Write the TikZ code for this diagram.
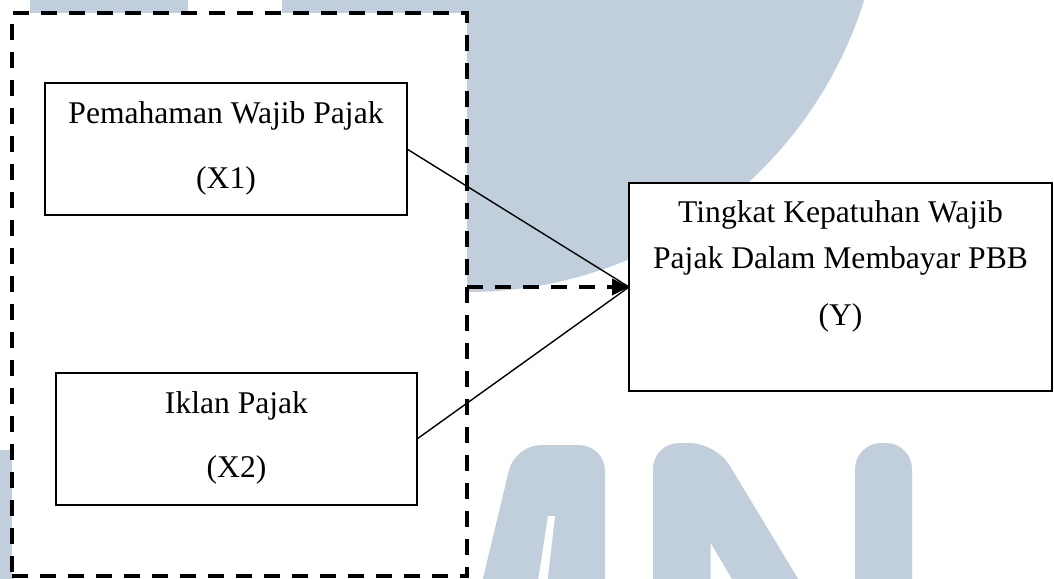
\documentclass[tikz,border=0pt]{standalone}
\usepackage{fontspec}
\setmainfont{Liberation Serif}
\usetikzlibrary{arrows.meta}
\definecolor{wm}{RGB}{193,207,220}
\begin{document}
\begin{tikzpicture}[x=1pt,y=-1pt,
  box/.style={draw=black, line width=1.8pt, fill=white, inner sep=0pt, outer sep=0pt, anchor=north west},
  dashbox/.style={draw=black, line width=4pt, dash pattern=on 16pt off 12pt, fill=white, inner sep=0pt, outer sep=0pt, anchor=north west},
  lbl/.style={anchor=base, font=\fontsize{31.6}{38}\selectfont, inner sep=0pt},
  link/.style={draw=black, line width=1.4pt},
  dlink/.style={draw=black, line width=4pt, dash pattern=on 16pt off 12pt, -{Triangle[length=17pt,width=16pt]}}]
\useasboundingbox (0,0) rectangle (1054,578);
% watermark
\begin{scope}
\clip (0,0) rectangle (1054,578);
\fill[wm] (467,-124) circle[radius=416pt];
\fill[wm] (30,-5) rectangle (187,14);
\fill[white] (188,-5) rectangle (282,14);
\fill[wm] (-10,450) rectangle (14,640);
\fill[wm, rounded corners=26pt] (473,620) -- (515,445) -- (605,445) -- (605,620) -- cycle;
\fill[white] (548,516) -- (555,516) -- (543,620) -- (532,620) -- cycle;
\fill[wm, rounded corners=26pt] (653,620) -- (653,443) -- (716,443) -- (823,620) -- cycle;
\fill[white] (710.5,543) -- (756,620) -- (710.5,620) -- cycle;
\fill[wm, rounded corners=26pt] (855,640) -- (855,443) -- (912,443) -- (912,640) -- cycle;
\end{scope}
% diagram
\node (grp) [dashbox, minimum width=455pt, minimum height=563pt] at (12,13) {};
\node (x1) [box, minimum width=362pt, minimum height=132pt] at (45,83) {};
\node (x1a) [lbl] at (226,123) {Pemahaman Wajib Pajak};
\node (x1b) [lbl] at (226,188) {(X1)};
\node (x2) [box, minimum width=361pt, minimum height=132pt] at (56,373) {};
\node (x2a) [lbl] at (236.5,413) {Iklan Pajak};
\node (x2b) [lbl] at (236.5,477) {(X2)};
\node (y) [box, minimum width=423pt, minimum height=208pt] at (629,183) {};
\node (ya) [lbl] at (840.5,222) {Tingkat Kepatuhan Wajib};
\node (yb) [lbl] at (840.5,268) {Pajak Dalam Membayar PBB};
\node (yc) [lbl] at (840.5,325) {(Y)};
\draw[link] (x1.east) -- (y.west);
\draw[link] (x2.east) -- (y.west);
\draw[dlink] (grp.east |- y.west) -- (y.west);
\end{tikzpicture}
\end{document}
